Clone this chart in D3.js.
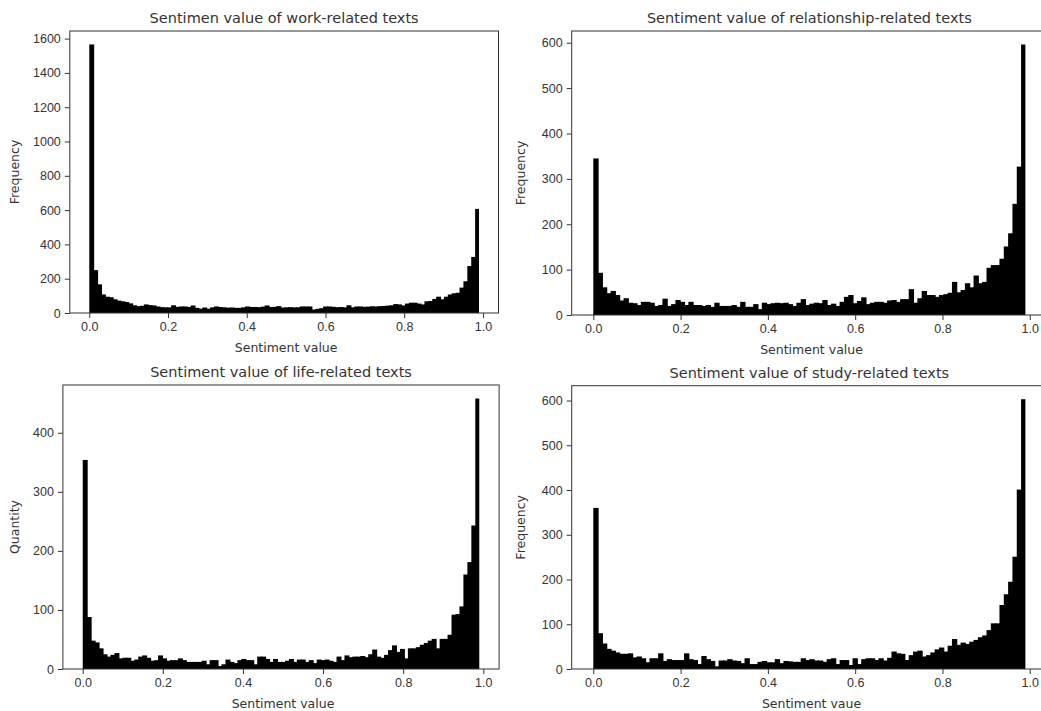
<!DOCTYPE html>
<html>
<head>
<meta charset="utf-8">
<script src="https://cdn.jsdelivr.net/npm/d3@7"></script>
<style>
	body { margin: 0; background: #fff; }
	svg { display: block; font-family: 'DejaVu Sans', sans-serif; }
	.tick text { fill: #333; }
	.domain, .tick line { stroke: #333; }
</style>
</head>
<body>
<script>
// histogram counts, 100 bins between 0 and 0.99
const workCounts = [
	1566, 250, 167, 108, 95, 92, 80, 72, 68, 64,
	56, 45, 40, 42, 50, 46, 44, 38, 34, 33,
	33, 45, 36, 38, 38, 35, 44, 30, 25, 32,
	25, 33, 38, 35, 33, 31, 32, 30, 30, 33,
	38, 35, 35, 34, 37, 44, 35, 36, 40, 32,
	33, 34, 33, 33, 38, 38, 38, 20, 24, 28,
	38, 38, 36, 34, 35, 33, 45, 33, 38, 38,
	36, 37, 39, 38, 40, 41, 43, 45, 52, 50,
	44, 55, 60, 60, 55, 50, 68, 70, 82, 95,
	80, 95, 108, 115, 118, 148, 185, 274, 327, 607
]

const relationshipCounts = [
	345, 93, 61, 48, 53, 44, 32, 37, 27, 26,
	22, 29, 29, 27, 20, 22, 36, 20, 24, 33,
	29, 22, 29, 22, 22, 20, 22, 18, 27, 20,
	20, 20, 22, 18, 29, 18, 18, 24, 13, 27,
	24, 26, 27, 26, 27, 24, 20, 27, 35, 22,
	25, 27, 26, 33, 22, 25, 20, 29, 40, 44,
	26, 31, 39, 24, 27, 29, 29, 27, 32, 33,
	29, 35, 35, 57, 27, 37, 53, 44, 44, 40,
	44, 46, 49, 73, 50, 55, 70, 61, 87, 70,
	73, 104, 110, 110, 124, 151, 180, 245, 327, 596
]

const lifeCounts = [
	354, 88, 48, 45, 35, 25, 21, 24, 27, 18,
	19, 19, 14, 16, 21, 23, 19, 14, 15, 23,
	18, 14, 15, 15, 18, 15, 12, 12, 12, 12,
	14, 8, 15, 15, 5, 8, 16, 12, 10, 15,
	17, 15, 15, 8, 21, 21, 17, 12, 17, 12,
	12, 14, 17, 12, 16, 16, 12, 15, 10, 16,
	15, 16, 14, 12, 21, 15, 23, 20, 21, 21,
	22, 20, 25, 33, 21, 19, 24, 32, 40, 29,
	34, 18, 35, 35, 37, 41, 44, 48, 51, 35,
	51, 51, 58, 92, 93, 106, 160, 181, 243, 458
]

const studyCounts = [
	360, 80, 57, 45, 41, 37, 34, 34, 35, 26,
	28, 24, 15, 24, 24, 35, 18, 22, 20, 20,
	20, 35, 22, 20, 11, 29, 22, 18, 6, 19,
	19, 22, 19, 18, 13, 24, 11, 11, 16, 18,
	15, 15, 22, 13, 18, 17, 16, 16, 24, 20,
	22, 19, 19, 16, 22, 24, 11, 20, 20, 9,
	24, 11, 22, 24, 24, 20, 24, 19, 25, 39,
	35, 34, 20, 31, 39, 41, 28, 31, 37, 44,
	48, 39, 52, 67, 54, 59, 56, 61, 65, 71,
	75, 87, 102, 102, 143, 167, 195, 251, 401, 603
]

const binStart = 0
const binEnd = 0.99

const xTicks = [0, 0.2, 0.4, 0.6, 0.8, 1.0]
const workTicks = [0, 200, 400, 600, 800, 1000, 1200, 1400, 1600]
const relationshipTicks = [0, 100, 200, 300, 400, 500, 600]
const lifeTicks = [0, 100, 200, 300, 400]
const studyTicks = [0, 100, 200, 300, 400, 500, 600]

const titles = [
	'Sentimen value of work-related texts',
	'Sentiment value of relationship-related texts',
	'Sentiment value of life-related texts',
	'Sentiment value of study-related texts'
]
const xLabels = ['Sentiment value', 'Sentiment value', 'Sentiment value', 'Sentiment vaue']
const yLabels = ['Frequency', 'Frequency', 'Quantity', 'Frequency']

// axes boxes in pixels (right column runs past the picture edge)
const panels = [
	{counts: workCounts, ticks: workTicks, left: 69.8, right: 498.5, top: 31, bottom: 313, labelX: 15},
	{counts: relationshipCounts, ticks: relationshipTicks, left: 571.7, right: 1047, top: 31, bottom: 315, labelX: 521},
	{counts: lifeCounts, ticks: lifeTicks, left: 62.9, right: 499.1, top: 385, bottom: 669, labelX: 15},
	{counts: studyCounts, ticks: studyTicks, left: 571.7, right: 1047, top: 385.7, bottom: 669, labelX: 521}
]

const svg = d3.select('body').append('svg')
	.attr('width', 1041)
	.attr('height', 711)

const drawPanel = (p, n) => {
	const binWidth = (binEnd - binStart) / p.counts.length
	const pad = (binEnd - binStart) * 0.05

	const x = d3.scaleLinear()
		.domain([binStart - pad, binEnd + pad])
		.range([p.left, p.right])

	const y = d3.scaleLinear()
		.domain([0, d3.max(p.counts) * 1.05])
		.range([p.bottom, p.top])

	const g = svg.append('g')

	// bars overlap by a hair so no seams show between them
	g.selectAll('.bar')
		.data(p.counts)
		.enter()
			.append('rect')
				.attr('class', 'bar')
				.attr('x', (d, i) => x(binStart + i * binWidth))
				.attr('width', (d, i) => x(binStart + (i + 1) * binWidth) - x(binStart + i * binWidth) + (i < p.counts.length - 1 ? 1 : 0))
				.attr('y', d => y(d))
				.attr('height', d => y(0) - y(d))
				.attr('fill', '#000')

	// frame
	g.append('rect')
		.attr('x', p.left)
		.attr('y', p.top)
		.attr('width', p.right - p.left)
		.attr('height', p.bottom - p.top)
		.attr('fill', 'none')
		.attr('stroke', '#333')
		.attr('stroke-width', 1)

	g.append('g')
		.attr('transform', `translate(0,${p.bottom})`)
		.call(d3.axisBottom(x).tickValues(xTicks).tickFormat(d3.format('.1f')).tickSize(5).tickPadding(4))
		.call(a => a.select('.domain').remove())
		.selectAll('text')
			.style('font-size', '12.5px')

	g.append('g')
		.attr('transform', `translate(${p.left},0)`)
		.call(d3.axisLeft(y).tickValues(p.ticks).tickFormat(d3.format('d')).tickSize(5).tickPadding(4))
		.call(a => a.select('.domain').remove())
		.selectAll('text')
			.style('font-size', '12.5px')

	g.append('text')
		.attr('x', (p.left + p.right) / 2)
		.attr('y', p.top - 8)
		.attr('text-anchor', 'middle')
		.style('font-size', '14.5px')
		.style('fill', '#333')
		.text(titles[n])

	g.append('text')
		.attr('x', x(0.5))
		.attr('y', p.bottom + 39)
		.attr('text-anchor', 'middle')
		.style('font-size', '12.5px')
		.style('fill', '#333')
		.text(xLabels[n])

	g.append('text')
		.attr('transform', `translate(${p.labelX},${(p.top + p.bottom) / 2}) rotate(-90)`)
		.attr('dy', '0.35em')
		.attr('text-anchor', 'middle')
		.style('font-size', '12.5px')
		.style('fill', '#333')
		.text(yLabels[n])
}

panels.forEach(drawPanel)
</script>
</body>
</html>
